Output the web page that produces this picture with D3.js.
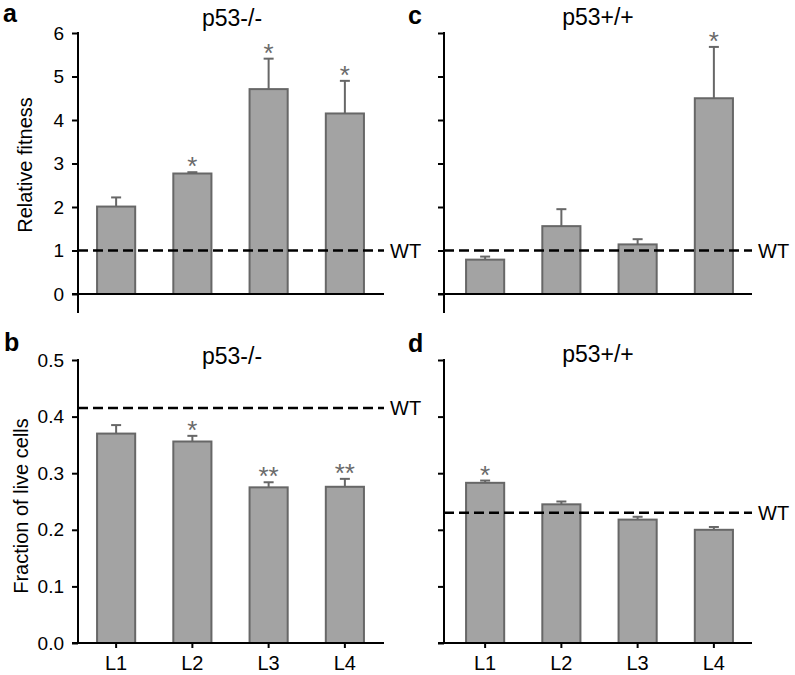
<!DOCTYPE html>
<html>
<head>
<meta charset="utf-8">
<script src="https://cdn.jsdelivr.net/npm/d3@7"></script>
<style>
html,body{margin:0;padding:0;background:#fff;}
svg{display:block;font-family:"Liberation Sans",Arial,sans-serif;}
</style>
</head>
<body>
<svg id="chart" width="795" height="675"></svg>
<script>
// ---- data ----
const categories = ["L1", "L2", "L3", "L4"];

const fitnessNull = [2.01, 2.77, 4.71, 4.15];      // panel a: p53-/-
const fitnessNullErr = [0.21, 0.03, 0.70, 0.75];
const fitnessNullStars = ["", "*", "*", "*"];

const fitnessWT = [0.79, 1.56, 1.14, 4.50];        // panel c: p53+/+
const fitnessWTErr = [0.07, 0.39, 0.12, 1.18];
const fitnessWTStars = ["", "", "", "*"];

const liveNull = [0.370, 0.356, 0.275, 0.276];     // panel b: p53-/-
const liveNullErr = [0.015, 0.010, 0.009, 0.014];
const liveNullStars = ["", "*", "**", "**"];

const liveWT = [0.283, 0.245, 0.218, 0.200];       // panel d: p53+/+
const liveWTErr = [0.004, 0.005, 0.005, 0.005];
const liveWTStars = ["*", "", "", ""];

const fitnessTicks = [0, 1, 2, 3, 4, 5, 6];
const liveTicks = [0.0, 0.1, 0.2, 0.3, 0.4, 0.5];
const wtFitness = 1.0;
const wtLiveNull = 0.415;
const wtLiveWT = 0.230;

// ---- drawing ----
const svg = d3.select("#chart");
const BAR_FILL = "#a3a3a3", BAR_STROKE = "#676767", STAR = "#6a6a6a";

function panel(opt) {
  const g = svg.append("g");
  const y = d3.scaleLinear().domain(opt.domain).range([opt.y0, opt.y1]);
  const x = d3.scaleBand().domain(categories).range([opt.bx0, opt.bx1]).padding(0.5).paddingOuter(0.25);

  // bars
  g.selectAll("rect.bar").data(opt.values).join("rect")
    .attr("x", (d, i) => x(categories[i]))
    .attr("width", x.bandwidth())
    .attr("y", d => y(d))
    .attr("height", d => y(0) - y(d))
    .attr("fill", BAR_FILL).attr("stroke", BAR_STROKE).attr("stroke-width", 2);

  // error bars (upward)
  opt.values.forEach((v, i) => {
    const cx = x(categories[i]) + x.bandwidth() / 2;
    const top = y(v + opt.err[i]);
    g.append("line").attr("x1", cx).attr("x2", cx).attr("y1", y(v)).attr("y2", top)
      .attr("stroke", BAR_STROKE).attr("stroke-width", 2);
    g.append("line").attr("x1", cx - 5).attr("x2", cx + 5).attr("y1", top).attr("y2", top)
      .attr("stroke", BAR_STROKE).attr("stroke-width", 2);
    if (opt.stars[i]) {
      g.append("text").attr("x", cx).attr("y", top + 3)
        .attr("text-anchor", "middle").attr("fill", STAR)
        .attr("font-size", 26)
        .text(opt.stars[i]);
    }
  });

  // dashed WT line
  g.append("line").attr("x1", opt.ax).attr("x2", opt.xEnd)
    .attr("y1", y(opt.wt)).attr("y2", y(opt.wt))
    .attr("stroke", "#000").attr("stroke-width", 2.5).attr("stroke-dasharray", "10,5");
  g.append("text").attr("x", opt.xEnd + 6).attr("y", y(opt.wt) + 7)
    .attr("font-size", 20).attr("fill", "#000").text("WT");

  // y axis
  const yAxis = d3.axisLeft(y).tickValues(opt.ticks).tickSize(6).tickPadding(8)
    .tickFormat(opt.showLabels ? opt.fmt : "");
  const ya = g.append("g").attr("transform", `translate(${opt.ax},0)`).call(yAxis);
  ya.select(".domain").remove();
  ya.selectAll(".tick line").attr("stroke", "#000").attr("stroke-width", 2);
  ya.selectAll(".tick text").attr("font-size", 19).attr("fill", "#000");
  g.append("line").attr("x1", opt.ax).attr("x2", opt.ax)
    .attr("y1", y(opt.domain[1]) - 1).attr("y2", opt.axisBottom)
    .attr("stroke", "#000").attr("stroke-width", 2);

  // x axis line
  g.append("line").attr("x1", opt.ax - 6).attr("x2", opt.xEnd)
    .attr("y1", y(0)).attr("y2", y(0)).attr("stroke", "#000").attr("stroke-width", 2);

  if (opt.showX) {
    const xAxis = d3.axisBottom(x).tickSize(5).tickPadding(8);
    const xa = g.append("g").attr("transform", `translate(0,${y(0)})`).call(xAxis);
    xa.select(".domain").remove();
    xa.selectAll(".tick line").attr("stroke", "#000").attr("stroke-width", 2);
    xa.selectAll(".tick text").attr("font-size", 20).attr("fill", "#000");
  }

  // title & panel letter
  g.append("text").attr("x", opt.titleX).attr("y", opt.titleY).attr("text-anchor", "middle")
    .attr("font-size", 23).attr("fill", "#000").text(opt.title);
  g.append("text").attr("x", opt.letterX).attr("y", opt.letterY)
    .attr("font-size", 25).attr("font-weight", "bold").attr("fill", "#000").text(opt.letter);

  if (opt.ylabel) {
    g.append("text").attr("transform", `translate(${opt.ylabelX},${opt.ylabelY}) rotate(-90)`)
      .attr("text-anchor", "middle").attr("font-size", 20).attr("fill", "#000").text(opt.ylabel);
  }
}

panel({letter: "a", letterX: 3, letterY: 22, title: "p53-/-", titleX: 232, titleY: 26,
  domain: [0, 6], y0: 294, y1: 33, ax: 78, axisBottom: 313, bx0: 78, bx1: 383, xEnd: 384,
  values: fitnessNull, err: fitnessNullErr, stars: fitnessNullStars, wt: wtFitness,
  ticks: fitnessTicks, fmt: d3.format("d"), showLabels: true, showX: false,
  ylabel: "Relative fitness", ylabelX: 32, ylabelY: 165});

panel({letter: "c", letterX: 408, letterY: 24, title: "p53+/+", titleX: 598, titleY: 25,
  domain: [0, 6], y0: 294, y1: 33, ax: 444, axisBottom: 313, bx0: 447, bx1: 752, xEnd: 752,
  values: fitnessWT, err: fitnessWTErr, stars: fitnessWTStars, wt: wtFitness,
  ticks: fitnessTicks, fmt: d3.format("d"), showLabels: false, showX: false});

panel({letter: "b", letterX: 4, letterY: 351, title: "p53-/-", titleX: 232, titleY: 364,
  domain: [0, 0.5], y0: 643, y1: 360, ax: 78, axisBottom: 643, bx0: 78, bx1: 383, xEnd: 384,
  values: liveNull, err: liveNullErr, stars: liveNullStars, wt: wtLiveNull,
  ticks: liveTicks, fmt: d3.format(".1f"), showLabels: true, showX: true,
  ylabel: "Fraction of live cells", ylabelX: 28, ylabelY: 506});

panel({letter: "d", letterX: 408, letterY: 352, title: "p53+/+", titleX: 598, titleY: 362,
  domain: [0, 0.5], y0: 643, y1: 360, ax: 444, axisBottom: 643, bx0: 447, bx1: 752, xEnd: 752,
  values: liveWT, err: liveWTErr, stars: liveWTStars, wt: wtLiveWT,
  ticks: liveTicks, fmt: d3.format(".1f"), showLabels: false, showX: true});
</script>
</body>
</html>
